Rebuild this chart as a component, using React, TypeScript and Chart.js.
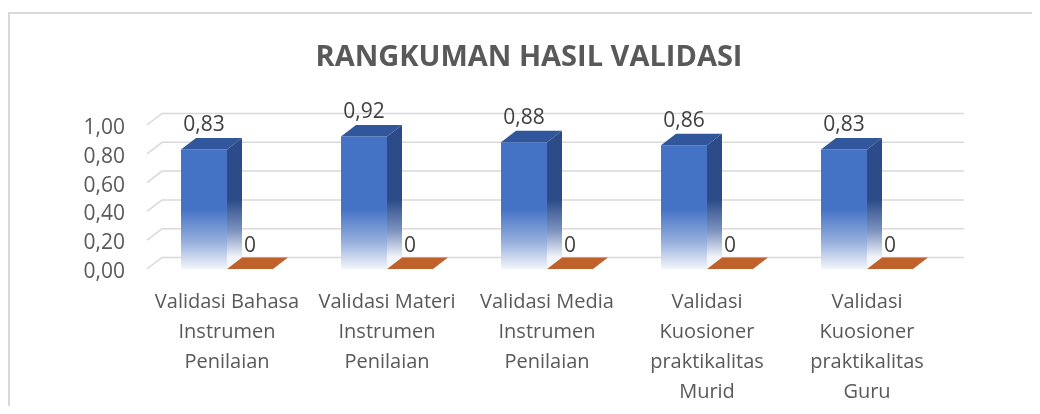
import React, { useEffect, useRef } from 'react';
import { Chart, registerables } from 'chart.js';

Chart.register(...registerables);

const titleText = 'RANGKUMAN HASIL VALIDASI';
const categories: string[][] = [
  ['Validasi Bahasa', 'Instrumen', 'Penilaian'],
  ['Validasi Materi', 'Instrumen', 'Penilaian'],
  ['Validasi Media', 'Instrumen', 'Penilaian'],
  ['Validasi', 'Kuosioner', 'praktikalitas', 'Murid'],
  ['Validasi', 'Kuosioner', 'praktikalitas', 'Guru'],
];
const seriesA: number[] = [0.83, 0.92, 0.88, 0.86, 0.83];
const seriesB: number[] = [0, 0, 0, 0, 0];
const yMin = 0;
const yMax = 1;
const yStep = 0.2;

const FONT = "'Open Sans', sans-serif";
const DX = 15;
const DY = -11.5;
const CANVAS_W = 1038;
const CANVAS_H = 400;

function fmt(v: number): string {
  if (v === 0) return '0';
  return v.toFixed(2).replace('.', ',');
}

const threeD = {
  id: 'threeD',
  beforeDatasetsDraw(chart: any) {
    const { ctx, chartArea, scales } = chart;
    const y = scales.y;
    ctx.save();
    ctx.strokeStyle = '#d9d9d9';
    ctx.lineWidth = 1.5;
    for (const t of y.ticks) {
      const py = y.getPixelForValue(t.value);
      ctx.beginPath();
      ctx.moveTo(chartArea.left, py);
      ctx.lineTo(chartArea.left + DX, py + DY);
      ctx.lineTo(chartArea.right + DX + 2, py + DY);
      ctx.stroke();
    }
    ctx.restore();
  },
  afterDatasetsDraw(chart: any) {
    const { ctx, scales } = chart;
    const y = scales.y;
    const y0 = y.getPixelForValue(0);
    const y1 = y.getPixelForValue(1);
    ctx.save();
    chart.data.datasets.forEach((ds: any, di: number) => {
      const meta = chart.getDatasetMeta(di);
      meta.data.forEach((el: any, i: number) => {
        const L = el.x - el.width / 2;
        const R = el.x + el.width / 2;
        const top = el.y;
        const base = el.base;
        if (di === 0) {
          const g = ctx.createLinearGradient(0, y1 + DY, 0, y0 + DY);
          g.addColorStop(0, '#2c4b88');
          g.addColorStop(0.6, '#2c4b88');
          g.addColorStop(0.82, '#7f96c2');
          g.addColorStop(1, '#f3f5fa');
          ctx.fillStyle = g;
          ctx.beginPath();
          ctx.moveTo(R, top);
          ctx.lineTo(R + DX, top + DY);
          ctx.lineTo(R + DX, base + DY);
          ctx.lineTo(R, base);
          ctx.closePath();
          ctx.fill();
          ctx.fillStyle = '#32569b';
          ctx.beginPath();
          ctx.moveTo(L, top);
          ctx.lineTo(R, top);
          ctx.lineTo(R + DX, top + DY);
          ctx.lineTo(L + DX, top + DY);
          ctx.closePath();
          ctx.fill();
        } else {
          ctx.fillStyle = '#c0602a';
          ctx.beginPath();
          ctx.moveTo(L, top);
          ctx.lineTo(R, top);
          ctx.lineTo(R + DX, top + DY);
          ctx.lineTo(L + DX, top + DY);
          ctx.closePath();
          ctx.fill();
        }
        ctx.fillStyle = '#404040';
        ctx.font = `21px ${FONT}`;
        ctx.textAlign = 'center';
        ctx.textBaseline = 'middle';
        ctx.fillText(fmt(ds.data[i]), el.x, top + DY - (di === 0 ? 13 : 11));
      });
    });
    ctx.restore();
  },
};

export default function App() {
  const ref = useRef<HTMLCanvasElement>(null);
  useEffect(() => {
    document.body.style.overflow = 'hidden';
    const chart = new Chart(ref.current as HTMLCanvasElement, {
      type: 'bar',
      data: {
        labels: categories,
        datasets: [
          {
            label: 'Seri 1',
            data: seriesA,
            backgroundColor: (c: any) => {
              const ch = c.chart;
              const { ctx, chartArea, scales } = ch;
              if (!chartArea || !scales || !scales.y) return '#4472c4';
              const py0 = scales.y.getPixelForValue(0);
              const py1 = scales.y.getPixelForValue(1);
              const g = ctx.createLinearGradient(0, py1, 0, py0);
              g.addColorStop(0, '#4472c4');
              g.addColorStop(0.58, '#4472c4');
              g.addColorStop(0.8, '#92acdc');
              g.addColorStop(1, '#f2f5fb');
              return g;
            },
            borderWidth: 0,
          },
          {
            label: 'Seri 2',
            data: seriesB,
            backgroundColor: '#ed7d31',
            borderWidth: 0,
          },
        ],
      },
      options: {
        responsive: false,
        animation: false,
        devicePixelRatio: 1,
        categoryPercentage: 0.575,
        barPercentage: 1,
        layout: { padding: { left: 0, right: 0, top: 0, bottom: 0 } },
        plugins: {
          legend: { display: false },
          tooltip: { enabled: false },
          title: {
            display: true,
            text: titleText,
            color: '#595959',
            font: { family: FONT, size: 29, weight: 'bold', lineHeight: 1.2 },
            padding: { top: 26.5, bottom: 49.7 },
          },
        },
        scales: {
          x: {
            grid: { display: false },
            border: { display: false },
            ticks: {
              color: '#595959',
              font: { family: FONT, size: 20, lineHeight: 1.5 },
              padding: 10,
              maxRotation: 0,
              minRotation: 0,
              autoSkip: false,
            },
            afterFit: (scale: any) => {
              scale.height = CANVAS_H - 255;
            },
          },
          y: {
            min: yMin,
            max: yMax,
            grid: { display: false },
            border: { display: false },
            ticks: {
              stepSize: yStep,
              color: '#595959',
              font: { family: FONT, size: 21 },
              padding: 14,
              labelOffset: 3,
              callback: (v: any) => Number(v).toFixed(2).replace('.', ','),
            },
            afterFit: (scale: any) => {
              scale.width = 137;
            },
          },
          yRight: {
            position: 'right',
            display: true,
            min: yMin,
            max: yMax,
            grid: { display: false },
            border: { display: false },
            ticks: { display: false },
            afterFit: (scale: any) => {
              scale.width = 101;
            },
          },
        },
      } as any,
      plugins: [threeD],
    });
    return () => chart.destroy();
  }, []);

  return (
    <div style={{ width: 1032, height: 398, overflow: 'hidden' }}>
      <div
        style={{
          marginTop: 4,
          width: 1038,
          height: 420,
          border: '2px solid #d9d9d9',
          boxSizing: 'content-box',
          position: 'relative',
        }}
      >
        <canvas
          ref={ref}
          width={CANVAS_W}
          height={CANVAS_H}
          style={{ display: 'block', width: CANVAS_W, height: CANVAS_H }}
        />
      </div>
    </div>
  );
}
